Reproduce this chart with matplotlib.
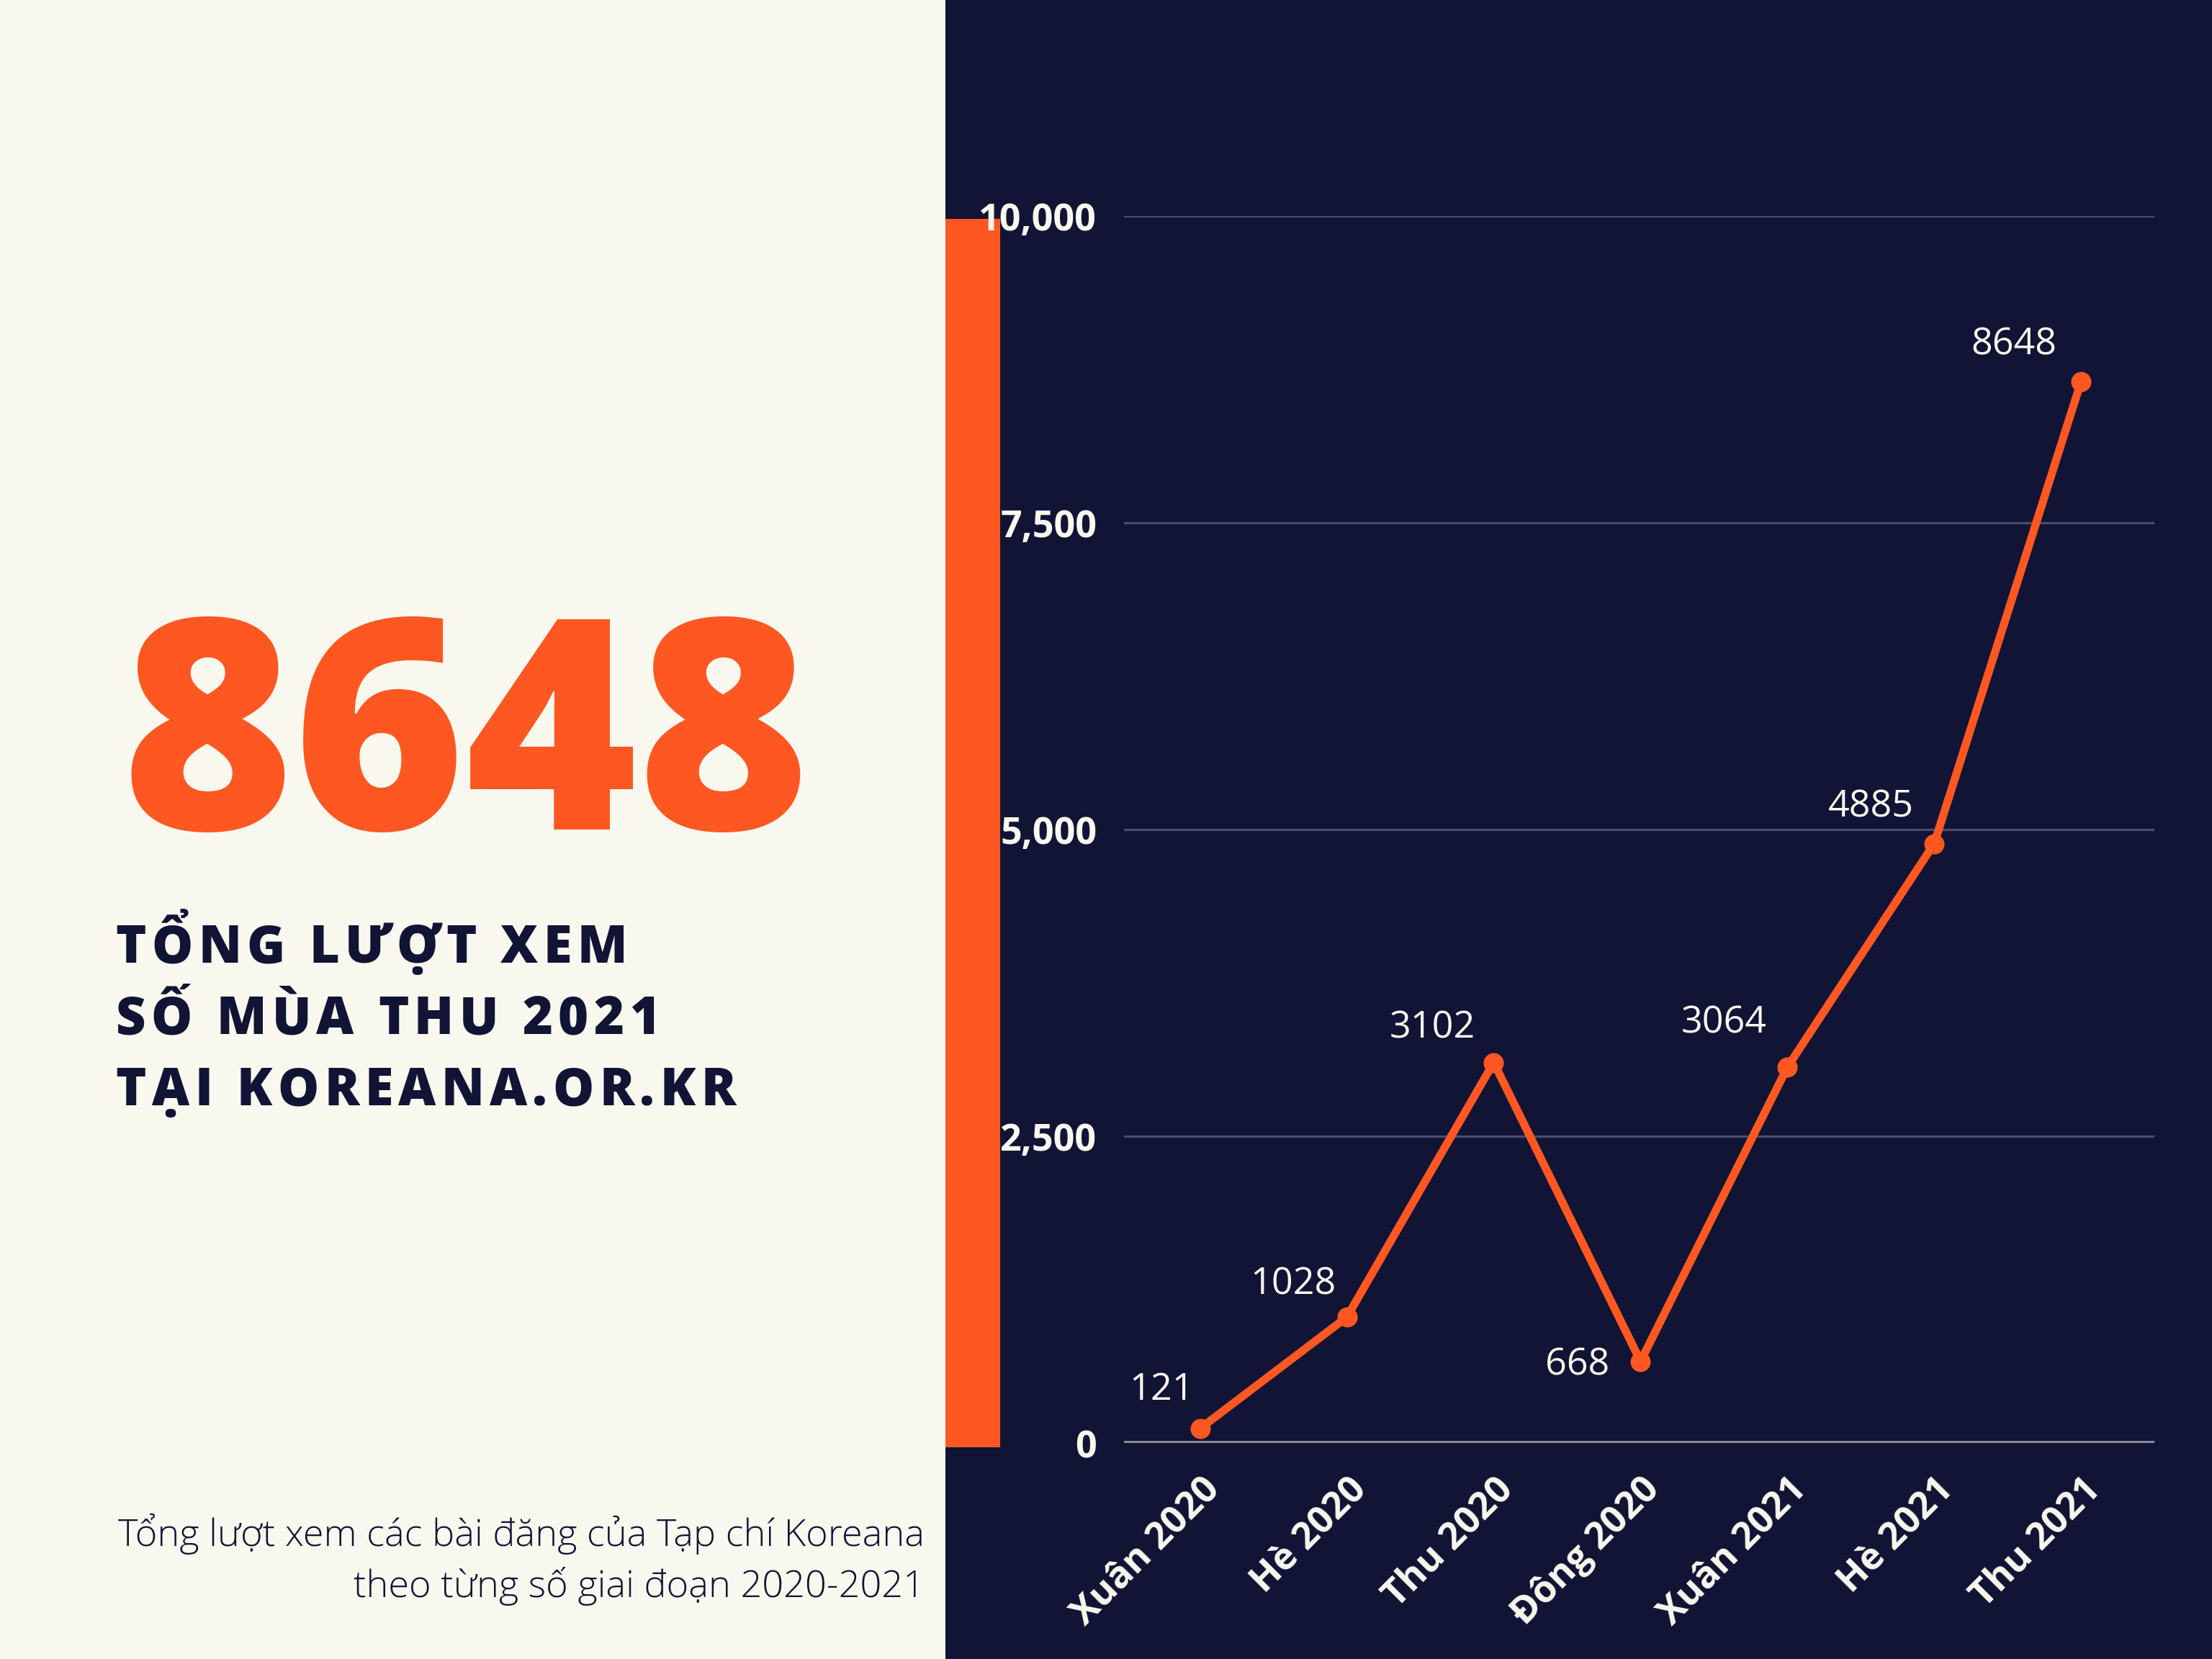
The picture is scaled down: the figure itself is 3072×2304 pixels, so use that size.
import matplotlib.pyplot as plt
import matplotlib.patches as patches

# data
seasons = ['Xuân 2020', 'Hè 2020', 'Thu 2020', 'Đông 2020', 'Xuân 2021', 'Hè 2021', 'Thu 2021']
views = [121, 1028, 3102, 668, 3064, 4885, 8648]
yticks = [0, 2500, 5000, 7500, 10000]
ytick_labels = ['0', '2,500', '5,000', '7,500', '10,000']
headline = '8648'
title_lines = ['TỔNG LƯỢT XEM', 'SỐ MÙA THU 2021', 'TẠI KOREANA.OR.KR']
note_lines = ['Tổng lượt xem các bài đăng của Tạp chí Koreana', 'theo từng số giai đoạn 2020-2021']

ORANGE = '#ff5722'
NAVY = '#111435'
CREAM = '#f9f8ef'

plt.rcParams['font.family'] = ['Open Sans', 'DejaVu Sans']

fig = plt.figure(figsize=(16, 12), dpi=192)
fig.patch.set_facecolor(CREAM)

# dark right panel and orange stripe
fig.patches.append(patches.Rectangle((0.4273, 0), 0.5727, 1, transform=fig.transFigure,
                                     facecolor=NAVY, edgecolor='none', zorder=-2))
fig.patches.append(patches.Rectangle((0.4273, 0.1276), 0.0249, 0.7406, transform=fig.transFigure,
                                     facecolor=ORANGE, edgecolor='none', zorder=-1))

ax = fig.add_axes([0.508, 0.130, 0.466, 0.740])
ax.set_zorder(5)
ax.set_facecolor('none')
x = list(range(len(seasons)))
ax.plot(x, views, color=ORANGE, linewidth=4.2, marker='o', markersize=9.5, zorder=3)
ax.set_xlim(-0.52, 6.5)
ax.set_ylim(0, 10000)

# gridlines
for v in yticks[1:]:
    ax.axhline(v, color='#4b4d6b', linewidth=1.2, zorder=1)
ax.axhline(0, color='#8a8a9a', linewidth=2.2, zorder=2)

ax.set_yticks(yticks)
ax.set_yticklabels(ytick_labels, fontsize=19.5, fontweight='bold', color=CREAM)
ax.set_xticks(x)
ax.set_xticklabels(seasons, fontsize=19.5, fontweight='bold', color=CREAM,
                   rotation=45, ha='right', rotation_mode='anchor')
ax.tick_params(axis='y', length=0, pad=14)
ax.tick_params(axis='x', length=0, pad=14)
for s in ax.spines.values():
    s.set_visible(False)

# value labels
offsets = [(-20, 20), (-28, 17), (-32, 18), (-33, -2), (-33, 23), (-33, 19), (-35, 19)]
for xi, v, off in zip(x, views, offsets):
    ax.annotate(str(v), (xi, v), xytext=off, textcoords='offset points',
                ha='center', va='center', fontsize=19.5, color=CREAM, zorder=4)

# headline number
fig.text(0.055, 0.5, headline, fontsize=153, fontweight='heavy', color=ORANGE,
         ha='left', va='baseline')


def spaced_text(x0, y0, s, gap, **kw):
    renderer = fig.canvas.get_renderer()
    xpos = x0
    for ch in s:
        t = fig.text(xpos, y0, ch, ha='left', va='baseline', **kw)
        w = t.get_window_extent(renderer=renderer).width / fig.bbox.width
        if ch == ' ':
            w = t.get_fontsize() * 0.26 * fig.dpi / 72 / fig.bbox.width
        xpos += w + gap


for i, line in enumerate(title_lines):
    spaced_text(0.0523, 0.4196 - i * 0.0430, line, 0.0024,
                fontsize=27, fontweight='heavy', color=NAVY)

# footnote
fig.text(0.418, 0.0755, note_lines[0], fontsize=19.6, fontweight='light', color=NAVY,
         ha='right', va='center')
fig.text(0.418, 0.0440, note_lines[1], fontsize=19.6, fontweight='light', color=NAVY,
         ha='right', va='center')

fig.savefig('out.png', dpi=192, facecolor=fig.get_facecolor())
